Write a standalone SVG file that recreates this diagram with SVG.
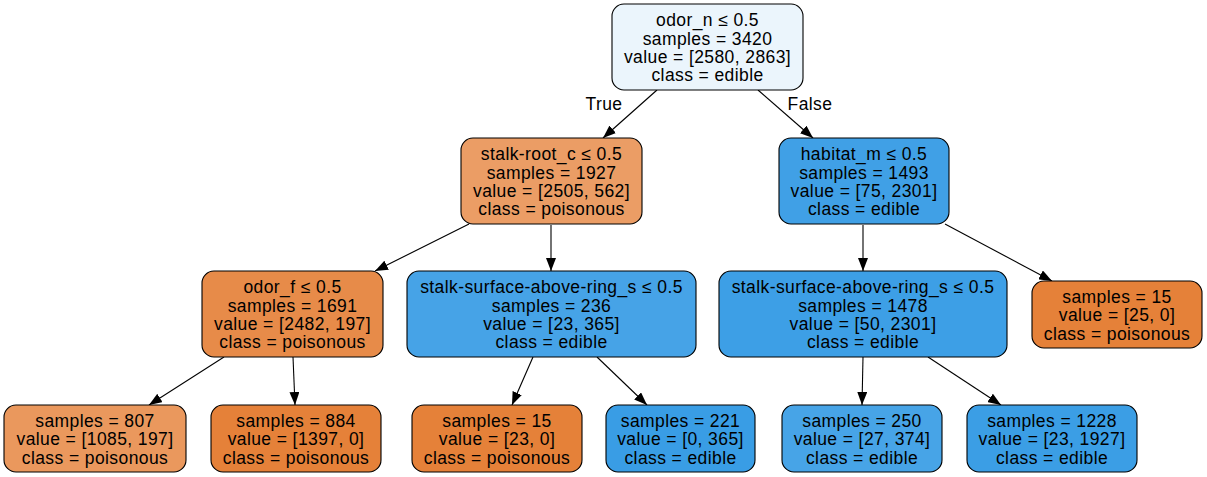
<svg xmlns="http://www.w3.org/2000/svg" width="1207" height="477" viewBox="0 0 1207 477">
<style>
.n rect{stroke:#000;stroke-width:1.1}
text{font-family:"Liberation Sans",Arial,Helvetica,sans-serif;font-size:17.5px;letter-spacing:0.4px;fill:#000;text-anchor:middle}
.e line{stroke:#000;stroke-width:1.1}
</style>
<defs>
<marker id="ah" markerUnits="userSpaceOnUse" markerWidth="13" markerHeight="10" refX="13" refY="5" orient="auto"><path d="M0,0 L13,5 L0,10 z" fill="#000"/></marker>
</defs>
<rect width="1207" height="477" fill="#fff"/>
<g class="e" id="edges">
<line x1="657" y1="90" x2="603" y2="138" marker-end="url(#ah)"/>
<line x1="758" y1="90" x2="813" y2="138" marker-end="url(#ah)"/>
<line x1="469" y1="224" x2="375" y2="271" marker-end="url(#ah)"/>
<line x1="551" y1="225" x2="551" y2="271" marker-end="url(#ah)"/>
<line x1="863" y1="225" x2="863" y2="271" marker-end="url(#ah)"/>
<line x1="945" y1="224" x2="1052" y2="281" marker-end="url(#ah)"/>
<line x1="224" y1="357" x2="149" y2="405" marker-end="url(#ah)"/>
<line x1="293" y1="357" x2="295" y2="405" marker-end="url(#ah)"/>
<line x1="533" y1="357" x2="512" y2="405" marker-end="url(#ah)"/>
<line x1="597" y1="357" x2="647" y2="405" marker-end="url(#ah)"/>
<line x1="863" y1="357" x2="862" y2="405" marker-end="url(#ah)"/>
<line x1="928" y1="357" x2="1001" y2="405" marker-end="url(#ah)"/>
<text x="604" y="110">True</text>
<text x="810" y="110">False</text>
</g>
<g class="n" id="n0">
<rect x="612" y="4" width="191" height="86" rx="12" fill="#ebf5fc"/>
<text x="707.5" y="26">odor_n ≤ 0.5</text>
<text x="707.5" y="44.5">samples = 3420</text>
<text x="707.5" y="63">value = [2580, 2863]</text>
<text x="707.5" y="81">class = edible</text>
</g>
<g class="n" id="n1">
<rect x="461" y="138" width="181" height="86" rx="12" fill="#eb9d65"/>
<text x="551.5" y="160">stalk-root_c ≤ 0.5</text>
<text x="551.5" y="178.5">samples = 1927</text>
<text x="551.5" y="197">value = [2505, 562]</text>
<text x="551.5" y="215">class = poisonous</text>
</g>
<g class="n" id="n2">
<rect x="779" y="138" width="170" height="86" rx="12" fill="#40a0e6"/>
<text x="864" y="160">habitat_m ≤ 0.5</text>
<text x="864" y="178.5">samples = 1493</text>
<text x="864" y="197">value = [75, 2301]</text>
<text x="864" y="215">class = edible</text>
</g>
<g class="n" id="n3">
<rect x="202" y="271" width="181" height="86" rx="12" fill="#e78b49"/>
<text x="292.5" y="293">odor_f ≤ 0.5</text>
<text x="292.5" y="311.5">samples = 1691</text>
<text x="292.5" y="330">value = [2482, 197]</text>
<text x="292.5" y="348">class = poisonous</text>
</g>
<g class="n" id="n4">
<rect x="407" y="271" width="289" height="86" rx="12" fill="#46a3e7"/>
<text x="551.5" y="293">stalk-surface-above-ring_s ≤ 0.5</text>
<text x="551.5" y="311.5">samples = 236</text>
<text x="551.5" y="330">value = [23, 365]</text>
<text x="551.5" y="348">class = edible</text>
</g>
<g class="n" id="n5">
<rect x="719" y="271" width="288" height="86" rx="12" fill="#3d9fe6"/>
<text x="863" y="293">stalk-surface-above-ring_s ≤ 0.5</text>
<text x="863" y="311.5">samples = 1478</text>
<text x="863" y="330">value = [50, 2301]</text>
<text x="863" y="348">class = edible</text>
</g>
<g class="n" id="n6">
<rect x="1032" y="281" width="170" height="67" rx="12" fill="#e58139"/>
<text x="1117" y="302.5">samples = 15</text>
<text x="1117" y="321">value = [25, 0]</text>
<text x="1117" y="339.5">class = poisonous</text>
</g>
<g class="n" id="n7">
<rect x="4" y="405" width="182" height="67" rx="12" fill="#ea985d"/>
<text x="95" y="426.5">samples = 807</text>
<text x="95" y="445">value = [1085, 197]</text>
<text x="95" y="463.5">class = poisonous</text>
</g>
<g class="n" id="n8">
<rect x="211" y="405" width="170" height="67" rx="12" fill="#e58139"/>
<text x="296" y="426.5">samples = 884</text>
<text x="296" y="445">value = [1397, 0]</text>
<text x="296" y="463.5">class = poisonous</text>
</g>
<g class="n" id="n9">
<rect x="412" y="405" width="170" height="67" rx="12" fill="#e58139"/>
<text x="497" y="426.5">samples = 15</text>
<text x="497" y="445">value = [23, 0]</text>
<text x="497" y="463.5">class = poisonous</text>
</g>
<g class="n" id="n10">
<rect x="606" y="405" width="149" height="67" rx="12" fill="#399de5"/>
<text x="680.5" y="426.5">samples = 221</text>
<text x="680.5" y="445">value = [0, 365]</text>
<text x="680.5" y="463.5">class = edible</text>
</g>
<g class="n" id="n11">
<rect x="782" y="405" width="160" height="67" rx="12" fill="#47a4e7"/>
<text x="862" y="426.5">samples = 250</text>
<text x="862" y="445">value = [27, 374]</text>
<text x="862" y="463.5">class = edible</text>
</g>
<g class="n" id="n12">
<rect x="967" y="405" width="170" height="67" rx="12" fill="#3b9ee5"/>
<text x="1052" y="426.5">samples = 1228</text>
<text x="1052" y="445">value = [23, 1927]</text>
<text x="1052" y="463.5">class = edible</text>
</g>
</svg>
